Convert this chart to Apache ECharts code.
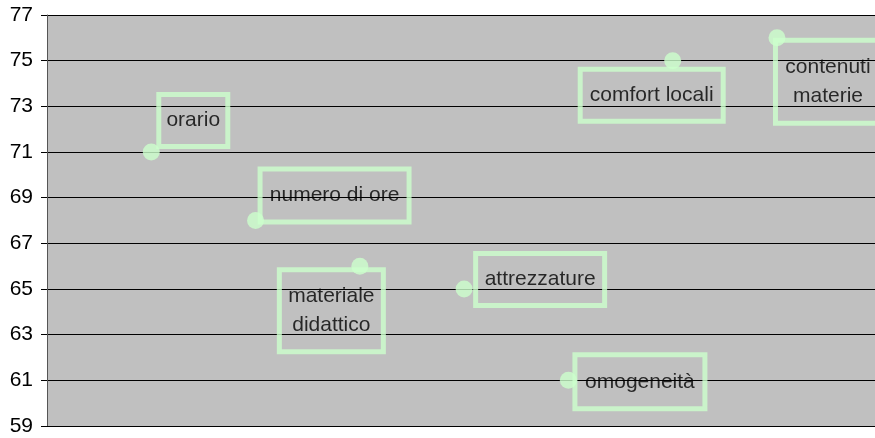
<!DOCTYPE html>
<html>
<head>
<meta charset="utf-8">
<script src="https://cdn.jsdelivr.net/npm/echarts@6/dist/echarts.min.js"></script>
<style>
  html, body { margin: 0; padding: 0; background: #fff; }
  #chart { width: 875px; height: 438px; }
</style>
</head>
<body>
<div id="chart"></div>
<script>
// dati
const categorie = ['orario', 'numero di ore', 'materiale\ndidattico', 'attrezzature', 'omogeneità', 'comfort locali', 'contenuti\nmaterie']
const posizioni = [1, 2, 3, 4, 5, 6, 7]
const valori = [71, 68, 66, 65, 61, 75, 76]

// riquadri delle etichette rispetto al punto: [dx, dy, larghezza, altezza] esterni
const riquadri = [
  [5, -60, 74, 57],
  [2, -54, 154, 58],
  [-83, 1, 109, 87],
  [9, -38, 134, 57],
  [4, -28, 135, 59],
  [-95, 6, 148, 57],
  [-4, 0, 110, 88]
]

const SIZE = 17
const BW = 5
const VERDE = '#ccffcc'
const FONT = '"Liberation Sans", Arial, sans-serif'

const chart = echarts.init(document.getElementById('chart'))

const punti = valori.map((v, i) => {
  const [dx, dy, w, h] = riquadri[i]
  return {
    name: categorie[i],
    value: [posizioni[i], v],
    label: {
      position: [dx + w / 2 + SIZE / 2, dy + h / 2 + SIZE / 2],
      width: w - BW,
      height: h - BW
    }
  }
})

chart.setOption({
  animation: false,
  grid: {
    left: 47,
    top: 15,
    bottom: 12,
    right: 0,
    show: true,
    backgroundColor: '#c0c0c0',
    borderWidth: 0
  },
  xAxis: {
    type: 'value',
    min: 0,
    max: 7.94,
    axisLine: { show: true, lineStyle: { color: '#000', width: 1 } },
    axisTick: { show: false },
    axisLabel: { show: false },
    splitLine: { show: false }
  },
  yAxis: {
    type: 'value',
    min: 59,
    max: 77,
    interval: 2,
    axisLine: { show: true, lineStyle: { color: '#555', width: 1 } },
    axisTick: { show: true, inside: false, length: 6, lineStyle: { color: '#000' } },
    axisLabel: { color: '#000', fontSize: 21, fontFamily: FONT, margin: 14 },
    splitLine: { show: true, lineStyle: { color: '#000', width: 1 } }
  },
  series: [{
    type: 'scatter',
    symbol: 'circle',
    symbolSize: SIZE,
    itemStyle: { color: VERDE },
    data: punti,
    label: {
      show: true,
      formatter: p => p.name,
      align: 'center',
      verticalAlign: 'middle',
      color: '#000',
      fontSize: 21,
      fontFamily: FONT,
      lineHeight: 29,
      borderColor: VERDE,
      borderWidth: BW,
      padding: 0
    }
  }]
})
</script>
</body>
</html>
